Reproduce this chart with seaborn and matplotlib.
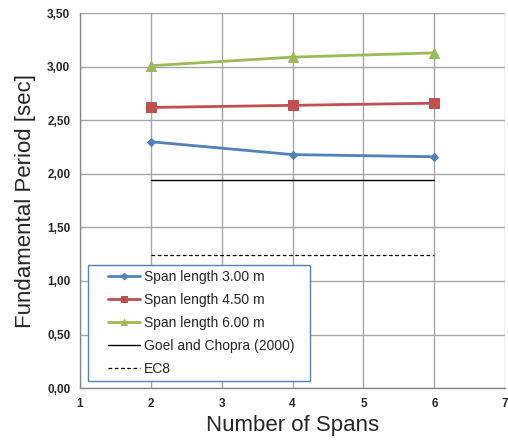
import matplotlib
matplotlib.use("Agg")
import matplotlib.pyplot as plt
from matplotlib.patches import Rectangle
import seaborn as sns
import pandas as pd

spans = [2, 4, 6]
period_300 = [2.30, 2.18, 2.16]
period_450 = [2.62, 2.64, 2.66]
period_600 = [3.01, 3.09, 3.13]
goel_chopra = [1.94, 1.94, 1.94]
ec8 = [1.24, 1.24, 1.24]
labels = ["Span length 3.00 m", "Span length 4.50 m", "Span length 6.00 m",
          "Goel and Chopra (2000)", "EC8"]
yticks = [0.0, 0.5, 1.0, 1.5, 2.0, 2.5, 3.0, 3.5]
xticks = [1, 2, 3, 4, 5, 6, 7]

sns.set_style("white")
plt.rcParams['font.family'] = ['Liberation Sans', 'DejaVu Sans']

fig = plt.figure(figsize=(5.08, 4.41), dpi=100)
ax = fig.add_axes([0.1575, 0.12, 0.837, 0.850])

series = [
    (period_300, labels[0], "#4F81BD", "D", 4.5),
    (period_450, labels[1], "#C0504D", "s", 6.5),
    (period_600, labels[2], "#9BBB59", "^", 6.5),
]
for vals, lab, col, mk, ms in series:
    df = pd.DataFrame({"x": spans, "y": vals})
    sns.lineplot(data=df, x="x", y="y", ax=ax, color=col, marker=mk,
                 markersize=ms, markeredgecolor=col, linewidth=2, label=lab)
df = pd.DataFrame({"x": spans, "y": goel_chopra})
sns.lineplot(data=df, x="x", y="y", ax=ax, color="black", linewidth=1, label=labels[3])
df = pd.DataFrame({"x": spans, "y": ec8})
sns.lineplot(data=df, x="x", y="y", ax=ax, color="black", linewidth=0.9,
             linestyle=(0, (3, 2)), label=labels[4])

ax.set_xlim(1, 7)
ax.set_ylim(0, 3.5)
ax.set_xticks(xticks)
ax.set_yticks(yticks)
ax.set_xticklabels([str(v) for v in xticks], fontsize=8.5, fontweight="bold")
ax.set_yticklabels([f"{v:.2f}".replace(".", ",") for v in yticks], fontsize=8.5, fontweight="bold")
ax.grid(True, color="#A6A6A6", linewidth=1)
ax.set_axisbelow(True)
for s in ["top", "right"]:
    ax.spines[s].set_visible(False)
for s in ["left", "bottom"]:
    ax.spines[s].set_color("#888888")
    ax.spines[s].set_linewidth(1)
ax.tick_params(axis="both", length=4, color="#888888", direction="out", pad=3)
ax.set_xlabel("Number of Spans", fontsize=16, labelpad=4)
ax.set_ylabel("Fundamental Period [sec]", fontsize=16, labelpad=8)

# legend frame drawn separately to allow wider horizontal padding
frame = Rectangle((0.0188, 0.0187), 0.522, 0.309, transform=ax.transAxes,
                  facecolor="white", edgecolor="#4F81BD", linewidth=1, zorder=4)
ax.add_patch(frame)

leg = ax.legend(loc="center left", bbox_to_anchor=(0.0659, 0.1747), fontsize=10,
                frameon=False, handlelength=2.3, borderpad=0,
                labelspacing=0.65, handletextpad=0.3, markerscale=0.75,
                borderaxespad=0)
leg.set_zorder(5)

fig.savefig("out.png", dpi=100)
